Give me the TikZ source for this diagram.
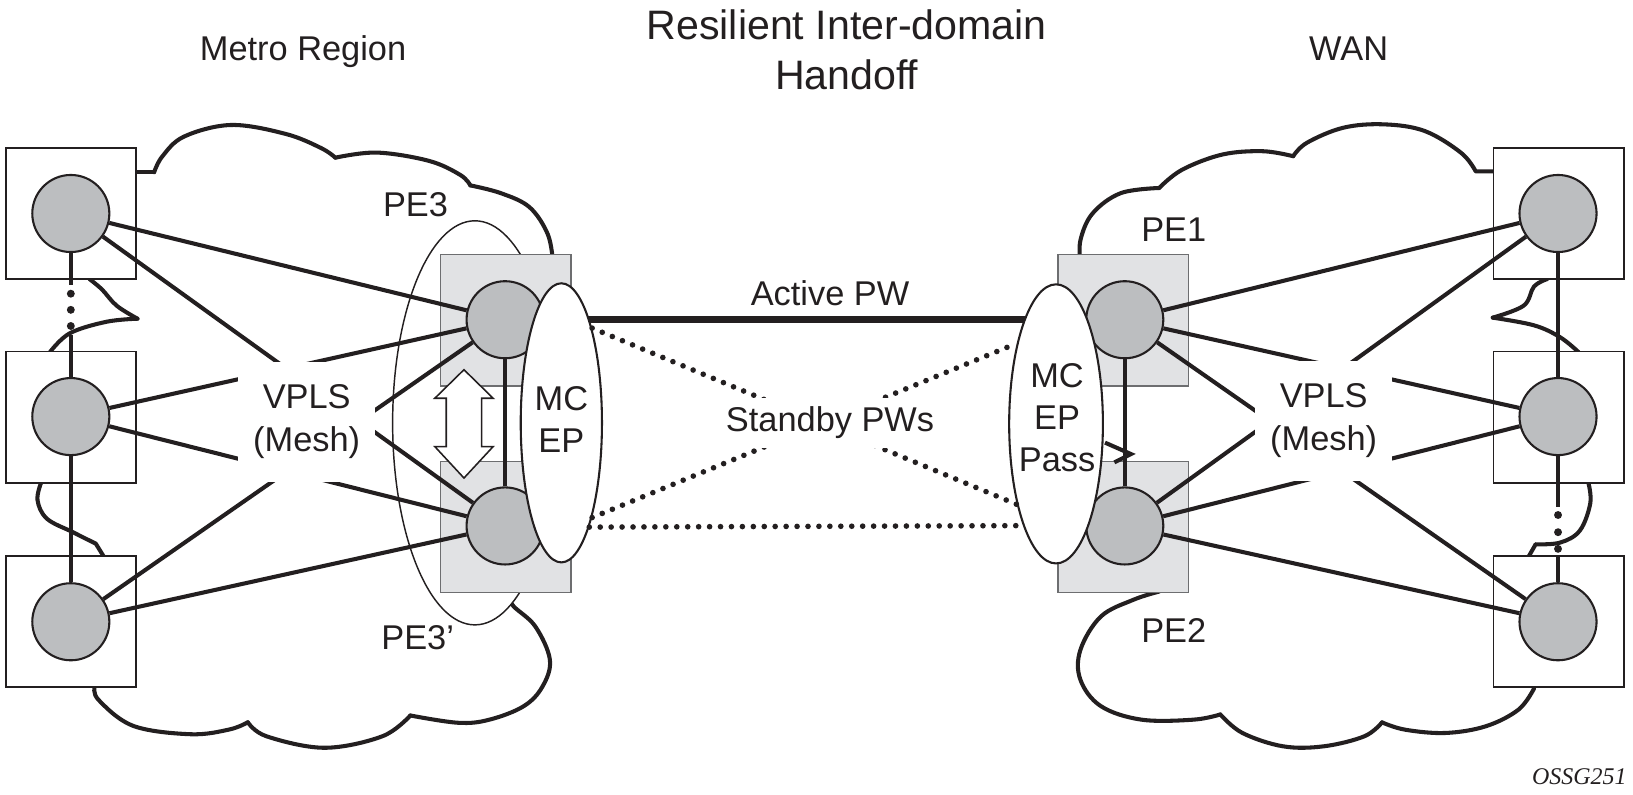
\documentclass[tikz,border=0pt]{standalone}
\usepackage{fontspec}
\setmainfont{Liberation Sans}
\newfontfamily\captfont{Liberation Serif}
\usetikzlibrary{shapes.geometric,calc}
\definecolor{ink}{HTML}{231F20}
\definecolor{nodegray}{HTML}{BCBEC0}
\definecolor{pegray}{HTML}{E1E2E4}
\definecolor{peborder}{HTML}{6D6E70}
\tikzset{
  cloudline/.style={draw=ink, line width=3.9pt, line cap=round, line join=round},
  sitebox/.style={rectangle, draw=ink, fill=white, line width=1.8pt, minimum width=125pt, minimum height=126pt, inner sep=0pt},
  pebox/.style={rectangle, draw=peborder, fill=pegray, line width=1.5pt, minimum width=125pt, minimum height=126pt, inner sep=0pt},
  router/.style={circle, draw=ink, fill=nodegray, line width=2pt, minimum size=74pt, inner sep=0pt},
  dotnode/.style={circle, fill=ink, minimum size=7.6pt, inner sep=0pt},
  mesh/.style={draw=ink, line width=3.9pt},
  standby/.style={draw=ink, line width=5.4pt, line cap=round, dash pattern=on 0pt off 10.5pt},
  active/.style={draw=ink, line width=7pt},
  mcell/.style={ellipse, draw=ink, fill=white, line width=2pt, inner sep=0pt},
  lbl/.style={text=ink, font=\fontsize{33}{40}\selectfont, inner sep=0pt},
  ttl/.style={text=ink, font=\fontsize{39.5}{48}\selectfont, inner sep=0pt},
  gapbox/.style={fill=white, inner sep=0pt, align=center, text=ink, font=\fontsize{33}{41}\selectfont},
}
\begin{document}
\begin{tikzpicture}[x=1pt,y=-1pt]
\useasboundingbox (0,0) rectangle (1568,763.3);
% ---------- left cloud (Metro Region)
\draw[cloudline] (131,165.4) -- (148,165.4);
\draw[cloudline] plot[smooth, tension=0.6] coordinates {(148,165.4) (156,150) (177,131) (222,120) (274,128.5) (308,142) (322,151.4)};
\draw[cloudline] plot[smooth, tension=0.6] coordinates {(322,151.4) (362,146.5) (412,154.5) (442,168) (451.6,178)};
\draw[cloudline] plot[smooth, tension=0.6] coordinates {(451.6,178) (481,185.5) (508.5,199) (526,225) (531,252)};
\draw[cloudline] plot[smooth, tension=0.6] coordinates {(86,268) (98,278) (112,293.5) (132,306)};
\draw[cloudline] plot[smooth, tension=0.6] coordinates {(132,306) (102,309) (67,320) (48,338)};
\draw[cloudline] plot[smooth, tension=0.6] coordinates {(40,462) (36,480) (45,498) (70,511) (92,522)} -- (100,535);
\draw[cloudline] plot[smooth, tension=0.6] coordinates {(486,570) (493,582) (514,601.5) (528,633.5) (521,659) (503,678) (470,691) (440,694) (394,687)};
\draw[cloudline] plot[smooth, tension=0.6] coordinates {(394,687) (367,707) (311.5,718) (256,707) (238,693.5)};
\draw[cloudline] plot[smooth, tension=0.6] coordinates {(238,693.5) (220,700.5) (183,705) (128,697) (94.6,672) (91,659)};
% ---------- right cloud (WAN)
\draw[cloudline] plot[smooth, tension=0.6] coordinates {(1037.4,252) (1037.4,230.7) (1049,205) (1076,185.5) (1113,180.5)};
\draw[cloudline] plot[smooth, tension=0.6] coordinates {(1113,180.5) (1135,163) (1173.6,148.4) (1212.5,145.2) (1241.7,150)};
\draw[cloudline] plot[smooth, tension=0.6] coordinates {(1241.7,150) (1255,137) (1290,122.6) (1329,119.4) (1368,125.8) (1403,146.8) (1417,164.6)} -- (1434,164.6);
\draw[cloudline] plot[smooth, tension=0.6] coordinates {(1485.5,268) (1473,275) (1463,293.5) (1433.3,305)};
\draw[cloudline] plot[smooth, tension=0.6] coordinates {(1433.3,305) (1473,312.4) (1498,323.8) (1515.6,338)};
\draw[cloudline] plot[smooth, tension=0.6] coordinates {(1525,463) (1527,483) (1517,509.4) (1498,521) (1474.5,522.6)} -- (1468,534);
\draw[cloudline] plot[smooth, tension=0.6] coordinates {(1473,661) (1458,681.4) (1426.5,697.4) (1387.6,703.8) (1349,700.6) (1327,693.6)};
\draw[cloudline] plot[smooth, tension=0.6] coordinates {(1327,693.6) (1310,707) (1271,716.6) (1232,716.6) (1193,703.8) (1171.7,686)};
\draw[cloudline] plot[smooth, tension=0.6] coordinates {(1171.7,686) (1146,691) (1096,691) (1057,678) (1037.4,652.7) (1037.4,624) (1057,592) (1088,576) (1113,568)};
% ---------- site boxes
\node[sitebox] (lb1) at (68.5,205) {};
\node[sitebox] (lb2) at (68.5,400.5) {};
\node[sitebox] (lb3) at (68.5,597) {};
\node[sitebox] (rb1) at (1496.5,205) {};
\node[sitebox] (rb2) at (1496.5,400.5) {};
\node[sitebox] (rb3) at (1496.5,597) {};
% ---------- PE3 / PE3' redundancy ellipse
\node[ellipse, draw=ink, fill=white, line width=1.4pt, minimum width=158pt, minimum height=388pt, inner sep=0pt] (pe3group) at (456,406) {};
% ---------- PE boxes
\node[pebox] (pe3box) at (485.5,307.5) {};
\node[pebox] (pe3pbox) at (485.5,506) {};
\node[pebox] (pe1box) at (1078.5,307.5) {};
\node[pebox] (pe2box) at (1078.5,506) {};
% ---------- double arrow
\draw[fill=white, draw=ink, line width=1.5pt, line join=miter] (445.5,355) -- (473.5,382.4) -- (462.5,382.4) -- (462.5,428.8) -- (473.5,428.8) -- (445.5,459) -- (417.5,428.8) -- (428.5,428.8) -- (428.5,382.4) -- (417.5,382.4) -- cycle;
% ---------- routers
\node[router] (lc1) at (68,205) {};
\node[router] (lc2) at (68,400) {};
\node[router] (lc3) at (68,597) {};
\node[router] (rc1) at (1496,205) {};
\node[router] (rc2) at (1496,400) {};
\node[router] (rc3) at (1496,597) {};
\node[router] (pe3) at (485,307) {};
\node[router] (pe3p) at (485,505) {};
\node[router] (pe1) at (1080,307) {};
\node[router] (pe2) at (1080,505) {};
% ---------- vertical chains
\coordinate (ld1) at (68,274);
\coordinate (ld2) at (68,322);
\draw[mesh] (lc1) -- (ld1);
\draw[mesh] (ld2) -- (lc2);
\draw[mesh] (lc2) -- (lc3);
\node[dotnode] (ldot1) at (68,282) {};
\node[dotnode] (ldot2) at (68,297.5) {};
\node[dotnode] (ldot3) at (68,313) {};
\coordinate (rd1) at (1496,487);
\coordinate (rd2) at (1496,534);
\draw[mesh] (rc1) -- (rc2);
\draw[mesh] (rc2) -- (rd1);
\draw[mesh] (rd2) -- (rc3);
\node[dotnode] (rdot1) at (1496,494.5) {};
\node[dotnode] (rdot2) at (1496,511) {};
\node[dotnode] (rdot3) at (1496,527) {};
\draw[mesh] (pe3) -- (pe3p);
\draw[mesh] (pe1) -- (pe2);
% ---------- VPLS mesh
\foreach \s in {lc1,lc2,lc3}{
  \draw[mesh] (\s) -- (pe3);
  \draw[mesh] (\s) -- (pe3p);
}
\foreach \s in {rc1,rc2,rc3}{
  \draw[mesh] (\s) -- (pe1);
  \draw[mesh] (\s) -- (pe2);
}
% ---------- active PW
\draw[active] (pe3) -- (pe1);
% ---------- small arrowhead
\coordinate (chvA) at (1061,425);
\coordinate (chvT) at (1086,436);
\coordinate (chvB) at (1070,444);
\draw[mesh, line join=miter] (chvA) -- (chvT) -- (chvB);
% ---------- MC endpoint ellipses
\node[mcell, minimum width=78pt, minimum height=268pt] (mcep) at (539,406) {};
\node[mcell, minimum width=90pt, minimum height=268pt] (mcpass) at (1014,407) {};
% ---------- standby PWs
\draw[standby] (mcep.72) -- (mcpass.244);
\draw[standby] (mcep.-72) -- (mcpass.116);
\draw[standby] (mcep.-75) -- (mcpass.252.6);
% ---------- texts with white backgrounds
\node[gapbox, minimum width=131pt, minimum height=115pt] (vplsl) at (294.5,405) {VPLS\\(Mesh)};
\node[gapbox, minimum width=131pt, minimum height=115pt] (vplsr) at (1271,404) {VPLS\\(Mesh)};
\node[gapbox, minimum height=48pt, inner xsep=3pt] (standbytxt) at (797,406) {Standby PWs};
% ---------- ellipse texts
\node[lbl, align=center] (mceptxt) at (539,403) {MC\\EP};
\node[lbl, align=center] (mcpasstxt) at (1015,401) {MC\\EP\\Pass};
% ---------- labels
\node[lbl, anchor=base] (pe3lbl) at (399,208) {PE3};
\node[lbl, anchor=base] (pe3plbl) at (401,624) {PE3’};
\node[lbl, anchor=base] (pe1lbl) at (1127,232) {PE1};
\node[lbl, anchor=base] (pe2lbl) at (1127,617) {PE2};
\node[lbl, anchor=base] (activelbl) at (797,293) {Active PW};
\node[lbl, anchor=base] (metro) at (291,58.5) {Metro Region};
\node[lbl, anchor=base] (wan) at (1295,58.5) {WAN};
\node[ttl, anchor=base] (title1) at (813,38) {Resilient Inter-domain};
\node[ttl, anchor=base] (title2) at (813,86) {Handoff};
\node[anchor=base east, font=\captfont\itshape\fontsize{23}{26}\selectfont, inner sep=0pt, text=ink] (figid) at (1562,753) {OSSG251};
\end{tikzpicture}
\end{document}
